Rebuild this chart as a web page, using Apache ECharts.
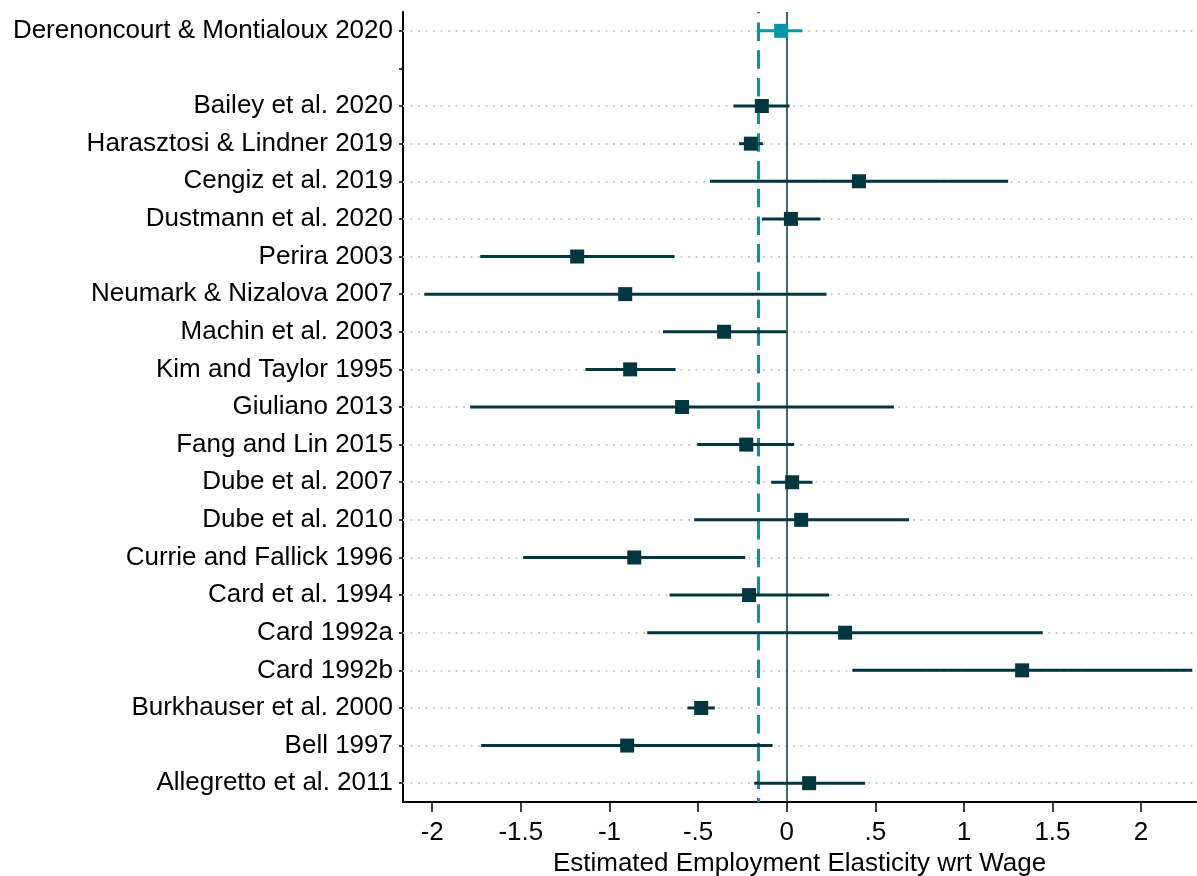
<!DOCTYPE html>
<html>
<head>
<meta charset="utf-8">
<script src="https://cdn.jsdelivr.net/npm/echarts@6/dist/echarts.min.js"></script>
<style>
html,body{margin:0;padding:0;background:#fff;}
#chart{width:1197px;height:876px;}
</style>
</head>
<body>
<div id="chart"></div>
<script>
// Row labels (top to bottom); the blank entry is the spacer row
const categories = ['Derenoncourt & Montialoux 2020', ' ', 'Bailey et al. 2020', 'Harasztosi & Lindner 2019',
  'Cengiz et al. 2019', 'Dustmann et al. 2020', 'Perira 2003', 'Neumark & Nizalova 2007', 'Machin et al. 2003',
  'Kim and Taylor 1995', 'Giuliano 2013', 'Fang and Lin 2015', 'Dube et al. 2007', 'Dube et al. 2010',
  'Currie and Fallick 1996', 'Card et al. 1994', 'Card 1992a', 'Card 1992b', 'Burkhauser et al. 2000',
  'Bell 1997', 'Allegretto et al. 2011'];

// Highlighted study
const mainStudy = 'Derenoncourt & Montialoux 2020';
const mainEstimate = -0.031;
const mainLower = -0.159;
const mainUpper = 0.089;
const referenceLine = -0.16;

// Other studies
const studies = ['Bailey et al. 2020', 'Harasztosi & Lindner 2019', 'Cengiz et al. 2019', 'Dustmann et al. 2020',
  'Perira 2003', 'Neumark & Nizalova 2007', 'Machin et al. 2003', 'Kim and Taylor 1995', 'Giuliano 2013',
  'Fang and Lin 2015', 'Dube et al. 2007', 'Dube et al. 2010', 'Currie and Fallick 1996', 'Card et al. 1994',
  'Card 1992a', 'Card 1992b', 'Burkhauser et al. 2000', 'Bell 1997', 'Allegretto et al. 2011'];
const estimates = [-0.140, -0.202, 0.408, 0.024, -1.182, -0.911, -0.353, -0.883, -0.590, -0.228, 0.031, 0.082,
  -0.860, -0.212, 0.330, 1.329, -0.482, -0.900, 0.127];
const lowers = [-0.300, -0.268, -0.432, -0.140, -1.729, -2.045, -0.698, -1.135, -1.786, -0.505, -0.087, -0.522,
  -1.487, -0.661, -0.787, 0.371, -0.560, -1.724, -0.183];
const uppers = [0.016, -0.134, 1.250, 0.191, -0.633, 0.225, -0.003, -0.627, 0.605, 0.042, 0.146, 0.691,
  -0.234, 0.240, 1.445, 2.289, -0.405, -0.080, 0.443];

// X axis
const xMin = -2.165, xMax = 2.31;
const xTickValues = [-2, -1.5, -1, -0.5, 0, 0.5, 1, 1.5, 2];
const xTickLabels = ['-2', '-1.5', '-1', '-.5', '0', '.5', '1', '1.5', '2'];
const xTitle = 'Estimated Employment Elasticity wrt Wage';

const DARK = '#02363f';
const TEAL = '#0096a8';
const FONT = '"Liberation Sans", Arial, sans-serif';

const mainIdx = categories.indexOf(mainStudy);
const studyIdx = studies.map(s => categories.indexOf(s));

function ciRender(color) {
  return function (params, api) {
    const y = api.value(1);
    const p1 = api.coord([api.value(0), y]);
    const p2 = api.coord([api.value(2), y]);
    return {
      type: 'line',
      shape: {x1: p1[0], y1: p1[1], x2: p2[0], y2: p2[1]},
      style: {stroke: color, lineWidth: 3}
    };
  };
}

const gridLineRows = [mainStudy].concat(studies).map(s => ({yAxis: categories.indexOf(s)}));

const chart = echarts.init(document.getElementById('chart'), null, {renderer: 'canvas'});
chart.setOption({
  animation: false,
  backgroundColor: '#fff',
  textStyle: {fontFamily: FONT},
  grid: {left: 403, right: 1, top: 12, bottom: 74, containLabel: false, outerBoundsMode: 'none'},
  xAxis: {
    type: 'value',
    min: xMin, max: xMax,
    axisLine: {show: true, onZero: false, lineStyle: {color: '#000', width: 2}},
    axisTick: {show: true, length: 10, customValues: xTickValues, lineStyle: {color: '#000', width: 1.5}},
    axisLabel: {
      customValues: xTickValues,
      fontSize: 26, color: '#000', margin: 18, fontFamily: FONT,
      formatter: v => { const i = xTickValues.findIndex(t => Math.abs(t - v) < 1e-9); return i >= 0 ? xTickLabels[i] : ''; }
    },
    splitLine: {show: false},
    name: xTitle,
    nameLocation: 'middle',
    nameGap: 45,
    nameTextStyle: {fontSize: 26, color: '#000', fontFamily: FONT}
  },
  yAxis: {
    type: 'category',
    data: categories,
    inverse: true,
    boundaryGap: true,
    axisLine: {show: true, onZero: false, lineStyle: {color: '#000', width: 2}},
    axisTick: {show: true, alignWithLabel: true, length: 4, interval: 0, lineStyle: {color: '#000', width: 1.5}},
    axisLabel: {interval: 0, fontSize: 26, color: '#000', margin: 10, fontFamily: FONT},
    splitLine: {show: false}
  },
  series: [
    {
      type: 'scatter', data: [], silent: true, z: 1,
      markLine: {
        z: 1,
        silent: true, symbol: 'none', label: {show: false},
        lineStyle: {color: '#cfcfcf', width: 2, type: [2, 5.5]},
        data: gridLineRows
      }
    },
    {
      type: 'scatter', data: [], silent: true, z: 2,
      markLine: {
        z: 2,
        silent: true, symbol: 'none', label: {show: false},
        data: [
          {xAxis: 0, lineStyle: {color: DARK, width: 1.5, type: 'solid'}},
          {xAxis: referenceLine, lineStyle: {color: TEAL, width: 3, type: [18.5, 9.2], dashOffset: 17.2}}
        ]
      }
    },
    {
      type: 'custom', z: 3, silent: true,
      renderItem: ciRender(DARK),
      encode: {x: [0, 2], y: 1},
      data: studies.map((s, i) => [lowers[i], studyIdx[i], uppers[i]])
    },
    {
      type: 'custom', z: 3, silent: true,
      renderItem: ciRender(TEAL),
      encode: {x: [0, 2], y: 1},
      data: [[mainLower, mainIdx, mainUpper]]
    },
    {
      type: 'scatter', z: 4, silent: true,
      symbol: 'rect', symbolSize: 14,
      itemStyle: {color: DARK, opacity: 1},
      data: studies.map((s, i) => [estimates[i], studyIdx[i]])
    },
    {
      type: 'scatter', z: 4, silent: true,
      symbol: 'rect', symbolSize: 14,
      itemStyle: {color: TEAL, opacity: 1},
      data: [[mainEstimate, mainIdx]]
    }
  ]
});
</script>
</body>
</html>
